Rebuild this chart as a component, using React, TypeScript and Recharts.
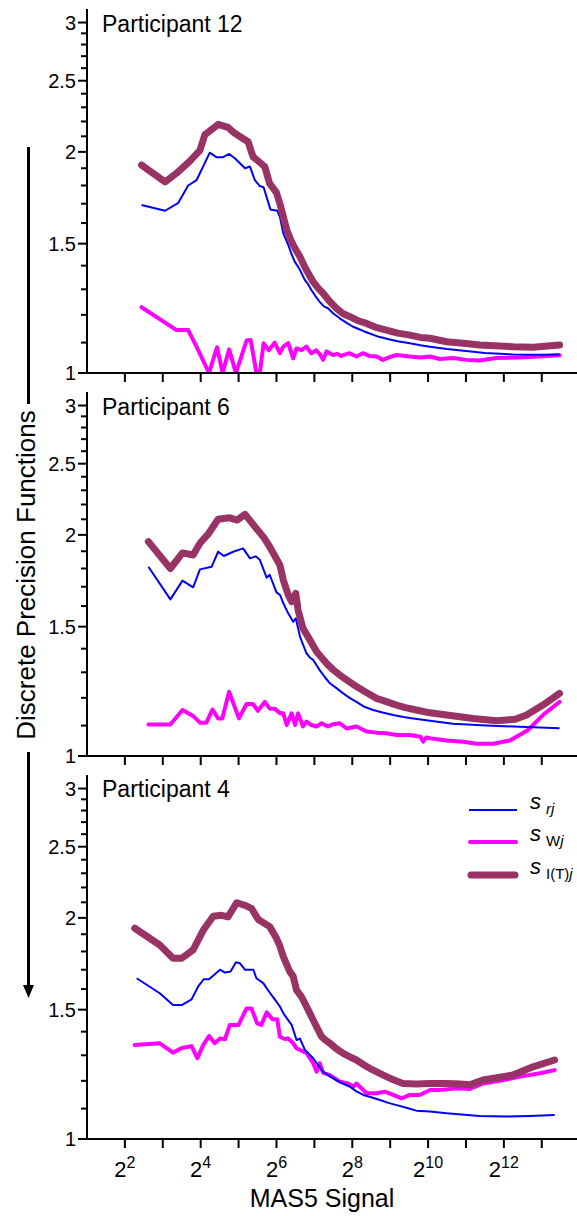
import React from 'react'
import { LineChart, Line, XAxis, YAxis } from 'recharts'

const FONT = '"Liberation Sans", Arial, Helvetica, sans-serif'

// [log2(MAS5 signal), precision value]
const p12Rj: [number, number][] = [
  [2.44, 1.693], [3.06, 1.663], [3.41, 1.705], [3.67, 1.8], [3.89, 1.83], [4.24, 1.995], [4.42, 1.966],
  [4.58, 1.966], [4.75, 1.987], [4.9, 1.96], [5.17, 1.9], [5.3, 1.91], [5.43, 1.83], [5.56, 1.797],
  [5.66, 1.79], [5.84, 1.67], [6.02, 1.663], [6.09, 1.632], [6.18, 1.549], [6.31, 1.494], [6.4, 1.45],
  [6.48, 1.418], [6.56, 1.398], [6.62, 1.381], [6.75, 1.338], [6.83, 1.322], [6.92, 1.297], [7.03, 1.272],
  [7.14, 1.25], [7.25, 1.232], [7.36, 1.225], [7.5, 1.205], [7.67, 1.187], [7.85, 1.17], [8.02, 1.156],
  [8.2, 1.146], [8.3, 1.14], [8.46, 1.132], [8.7, 1.12], [8.99, 1.111], [9.2, 1.105], [9.52, 1.098],
  [9.8, 1.091], [10.05, 1.086], [10.5, 1.078], [11.0, 1.071], [11.5, 1.065], [12.24, 1.06], [13.0, 1.059],
  [13.47, 1.06],
]
const p12W: [number, number][] = [
  [2.44, 1.229], [3.06, 1.171], [3.36, 1.144], [3.67, 1.144], [3.89, 1.086], [4.22, 1.0], [4.43, 1.084],
  [4.58, 1.0], [4.75, 1.077], [4.93, 1.0], [5.21, 1.107], [5.32, 1.109], [5.47, 1.0], [5.56, 1.0],
  [5.66, 1.098], [5.8, 1.074], [5.95, 1.1], [6.09, 1.064], [6.18, 1.086], [6.31, 1.098], [6.44, 1.047],
  [6.53, 1.08], [6.66, 1.074], [6.79, 1.086], [6.92, 1.064], [7.05, 1.074], [7.15, 1.06], [7.23, 1.042],
  [7.32, 1.07], [7.49, 1.058], [7.6, 1.062], [7.7, 1.055], [7.93, 1.064], [8.11, 1.053], [8.28, 1.064],
  [8.45, 1.055], [8.64, 1.053], [8.81, 1.042], [9.0, 1.052], [9.17, 1.058], [9.52, 1.053], [9.8, 1.05],
  [10.05, 1.053], [10.31, 1.045], [10.66, 1.048], [11.01, 1.042], [11.36, 1.04], [11.8, 1.048],
  [12.42, 1.05], [13.12, 1.055], [13.47, 1.057],
]
const p12I: [number, number][] = [
  [2.44, 1.919], [3.06, 1.82], [3.36, 1.87], [3.7, 1.94], [3.98, 2.01], [4.11, 2.11], [4.46, 2.18],
  [4.72, 2.16], [4.9, 2.12], [5.25, 2.065], [5.38, 1.97], [5.69, 1.91], [5.82, 1.81], [6.0, 1.76],
  [6.09, 1.7], [6.18, 1.632], [6.27, 1.566], [6.36, 1.525], [6.44, 1.494], [6.53, 1.465], [6.62, 1.44],
  [6.7, 1.41], [6.79, 1.381], [6.88, 1.355], [6.97, 1.331], [7.1, 1.305], [7.23, 1.284], [7.4, 1.252],
  [7.58, 1.225], [7.75, 1.205], [7.94, 1.193], [8.15, 1.178], [8.38, 1.168], [8.6, 1.155], [8.9, 1.144],
  [9.2, 1.133], [9.52, 1.126], [9.8, 1.118], [10.05, 1.115], [10.49, 1.103], [11.0, 1.097], [11.36, 1.092],
  [12.24, 1.086], [12.77, 1.084], [13.47, 1.092],
]

const p6Rj: [number, number][] = [
  [2.62, 1.81], [3.2, 1.634], [3.52, 1.733], [3.8, 1.697], [3.98, 1.795], [4.29, 1.81], [4.46, 1.897],
  [4.61, 1.872], [4.86, 1.897], [5.12, 1.917], [5.3, 1.858], [5.45, 1.87], [5.56, 1.85], [5.74, 1.749],
  [5.82, 1.765], [6.0, 1.67], [6.1, 1.655], [6.18, 1.614], [6.31, 1.564], [6.44, 1.523], [6.51, 1.54],
  [6.62, 1.454], [6.79, 1.38], [6.88, 1.362], [6.97, 1.351], [7.14, 1.309], [7.28, 1.28], [7.41, 1.256],
  [7.6, 1.235], [7.76, 1.217], [7.95, 1.198], [8.11, 1.185], [8.3, 1.168], [8.55, 1.155], [8.8, 1.146],
  [9.08, 1.137], [9.35, 1.13], [9.61, 1.125], [10.05, 1.117], [10.66, 1.106], [11.54, 1.1],
  [12.42, 1.096], [13.47, 1.091],
]
const p6W: [number, number][] = [
  [2.62, 1.104], [3.2, 1.104], [3.52, 1.155], [3.8, 1.134], [3.98, 1.11], [4.15, 1.11], [4.31, 1.157],
  [4.46, 1.125], [4.57, 1.125], [4.75, 1.223], [5.01, 1.125], [5.21, 1.177], [5.38, 1.177], [5.51, 1.152],
  [5.69, 1.185], [5.82, 1.16], [5.95, 1.16], [6.1, 1.143], [6.18, 1.143], [6.27, 1.102], [6.4, 1.143],
  [6.49, 1.102], [6.57, 1.143], [6.7, 1.097], [6.79, 1.114], [6.92, 1.102], [7.06, 1.097], [7.19, 1.108],
  [7.36, 1.097], [7.5, 1.105], [7.67, 1.108], [7.85, 1.09], [8.11, 1.097], [8.38, 1.08], [8.64, 1.076],
  [8.9, 1.074], [9.17, 1.068], [9.52, 1.068], [9.8, 1.062], [9.87, 1.046], [9.95, 1.06], [10.05, 1.057],
  [10.49, 1.05], [10.93, 1.046], [11.28, 1.039], [11.72, 1.039], [12.16, 1.05], [12.64, 1.085],
  [13.03, 1.137], [13.47, 1.185],
]
const p6I: [number, number][] = [
  [2.62, 1.958], [3.2, 1.8], [3.52, 1.89], [3.8, 1.878], [3.98, 1.948], [4.2, 2.006], [4.46, 2.1],
  [4.77, 2.11], [4.96, 2.095], [5.17, 2.133], [5.43, 2.052], [5.65, 1.989], [5.82, 1.927], [6.09, 1.82],
  [6.18, 1.736], [6.31, 1.657], [6.4, 1.622], [6.51, 1.665], [6.57, 1.58], [6.7, 1.492], [6.88, 1.439],
  [7.06, 1.387], [7.2, 1.36], [7.32, 1.337], [7.5, 1.31], [7.67, 1.289], [7.9, 1.265], [8.11, 1.243],
  [8.35, 1.222], [8.64, 1.198], [8.9, 1.186], [9.17, 1.173], [9.4, 1.164], [9.69, 1.155], [10.05, 1.145],
  [10.49, 1.137], [11.19, 1.125], [11.8, 1.117], [12.3, 1.122], [12.6, 1.137], [13.03, 1.173],
  [13.47, 1.217],
]

const p4Rj: [number, number][] = [
  [2.31, 1.655], [2.92, 1.579], [3.27, 1.522], [3.5, 1.522], [3.76, 1.549], [3.93, 1.612], [4.08, 1.65],
  [4.22, 1.65], [4.51, 1.7], [4.64, 1.685], [4.79, 1.69], [4.93, 1.74], [5.03, 1.735], [5.17, 1.7],
  [5.39, 1.7], [5.47, 1.655], [5.65, 1.63], [5.82, 1.583], [5.95, 1.55], [6.09, 1.515], [6.2, 1.478],
  [6.4, 1.43], [6.53, 1.364], [6.62, 1.37], [6.75, 1.322], [6.97, 1.288], [7.1, 1.26], [7.23, 1.235],
  [7.4, 1.218], [7.58, 1.203], [7.75, 1.19], [7.94, 1.178], [8.1, 1.162], [8.29, 1.148], [8.5, 1.14],
  [8.73, 1.13], [8.95, 1.12], [9.17, 1.112], [9.45, 1.102], [9.69, 1.093], [10.05, 1.09], [10.49, 1.084],
  [11.36, 1.075], [12.07, 1.073], [12.68, 1.075], [13.34, 1.078],
]
const p4W: [number, number][] = [
  [2.26, 1.343], [2.92, 1.35], [3.27, 1.311], [3.5, 1.33], [3.76, 1.338], [3.91, 1.288], [4.07, 1.343],
  [4.22, 1.381], [4.37, 1.35], [4.51, 1.37], [4.64, 1.367], [4.77, 1.43], [5.0, 1.43], [5.21, 1.506],
  [5.34, 1.506], [5.49, 1.437], [5.6, 1.43], [5.74, 1.487], [5.9, 1.455], [6.02, 1.455], [6.09, 1.378],
  [6.22, 1.368], [6.31, 1.37], [6.44, 1.35], [6.53, 1.329], [6.62, 1.322], [6.79, 1.31], [6.97, 1.268],
  [7.06, 1.235], [7.14, 1.268], [7.23, 1.23], [7.41, 1.222], [7.67, 1.197], [7.89, 1.19], [8.02, 1.178],
  [8.11, 1.19], [8.38, 1.154], [8.64, 1.154], [8.86, 1.16], [9.08, 1.148], [9.3, 1.136], [9.52, 1.148],
  [9.78, 1.148], [10.05, 1.166], [10.31, 1.166], [10.75, 1.172], [11.1, 1.17], [11.45, 1.19],
  [11.89, 1.2], [12.42, 1.216], [12.95, 1.229], [13.34, 1.241],
]
const p4I: [number, number][] = [
  [2.26, 1.936], [2.92, 1.837], [3.27, 1.762], [3.5, 1.762], [3.8, 1.809], [4.07, 1.925], [4.33, 2.01],
  [4.55, 2.016], [4.72, 2.006], [4.95, 2.097], [5.17, 2.08], [5.34, 2.06], [5.52, 1.99], [5.82, 1.946],
  [6.0, 1.876], [6.09, 1.83], [6.18, 1.771], [6.35, 1.69], [6.44, 1.665], [6.53, 1.595], [6.66, 1.562],
  [6.84, 1.498], [7.01, 1.437], [7.19, 1.378], [7.3, 1.362], [7.41, 1.35], [7.58, 1.327], [7.76, 1.308],
  [7.95, 1.293], [8.11, 1.281], [8.3, 1.262], [8.46, 1.248], [8.7, 1.23], [8.9, 1.216], [9.1, 1.203],
  [9.34, 1.19], [9.69, 1.188], [10.05, 1.19], [10.49, 1.19], [10.84, 1.188], [11.1, 1.185],
  [11.45, 1.203], [12.24, 1.222], [12.77, 1.254], [13.34, 1.281],
]

const X_TICKS = [2, 3, 4, 5, 6, 7, 8, 9, 10, 11, 12, 13]
const Y_MAJOR = [1, 1.5, 2, 2.5, 3]
const Y_TICKS = [
  1, 1.1, 1.2, 1.3, 1.4, 1.5, 1.6, 1.7, 1.8, 1.9, 2, 2.1, 2.2, 2.3, 2.4, 2.5, 2.6, 2.7, 2.8, 2.9, 3,
]

const BLUE = '#0000ff'
const MAGENTA = '#ff00ff'
const MAROON = '#993366'

const pts = (a: [number, number][]) => a.map(([x, y]) => ({ x, y }))

function YTick({ x, y, payload }: any) {
  const major = Y_MAJOR.includes(payload.value)
  return (
    <g>
      <line x1={x - (major ? 9 : 6)} x2={x} y1={y} y2={y} stroke="#000" strokeWidth={2} />
      {major && (
        <text x={x - 11} y={y + 7} textAnchor="end" fontSize={20} fontFamily={FONT} fill="#000">
          {payload.value}
        </text>
      )}
    </g>
  )
}

function XTick({ x, y, payload, showLabel }: any) {
  const v = payload.value
  return (
    <g>
      <line x1={x} x2={x} y1={y} y2={y + 9} stroke="#000" strokeWidth={2} />
      {showLabel && v % 2 === 0 && (
        <text x={x} y={y + 38} textAnchor="middle" fontSize={22} fontFamily={FONT} fill="#000">
          2<tspan dy={-9} fontSize={16}>{v}</tspan>
        </text>
      )}
    </g>
  )
}

interface PanelProps {
  top: number
  height: number
  rj: [number, number][]
  w: [number, number][]
  it: [number, number][]
  showLabels?: boolean
}

function Panel({ top, height, rj, w, it, showLabels = false }: PanelProps) {
  return (
    <div style={{ position: 'absolute', left: 0, top, width: 577, height }}>
      <LineChart width={577} height={height} margin={{ top: 9, right: 0, bottom: 0, left: 0 }}>
        <XAxis
          type="number"
          dataKey="x"
          domain={[1, 13.93]}
          ticks={X_TICKS}
          interval={0}
          allowDataOverflow
          height={showLabels ? 77 : 11}
          tickSize={0}
          tickMargin={0}
          axisLine={{ stroke: '#000', strokeWidth: 2 }}
          tick={(p: any) => <XTick {...p} showLabel={showLabels} />}
        />
        <YAxis
          type="number"
          dataKey="y"
          scale="log"
          domain={[1, 3.13]}
          ticks={Y_TICKS}
          interval={0}
          allowDataOverflow
          width={87}
          tickSize={0}
          tickMargin={0}
          axisLine={{ stroke: '#000', strokeWidth: 2 }}
          tick={(p: any) => <YTick {...p} />}
        />
        <Line data={pts(w)} dataKey="y" stroke={MAGENTA} strokeWidth={4} dot={false}
          strokeLinejoin="round" strokeLinecap="round" isAnimationActive={false} />
        <Line data={pts(rj)} dataKey="y" stroke={BLUE} strokeWidth={2} dot={false}
          strokeLinejoin="round" isAnimationActive={false} />
        <Line data={pts(it)} dataKey="y" stroke={MAROON} strokeWidth={7} dot={false}
          strokeLinejoin="round" strokeLinecap="round" isAnimationActive={false} />
      </LineChart>
    </div>
  )
}

export default function App() {
  return (
    <div style={{ position: 'absolute', left: 0, top: 0, width: 577, height: 1216, background: '#fff', fontFamily: FONT }}>
      <Panel top={0} height={384} rj={p12Rj} w={p12W} it={p12I} />
      <Panel top={383} height={384} rj={p6Rj} w={p6W} it={p6I} />
      <Panel top={766} height={450} rj={p4Rj} w={p4W} it={p4I} showLabels />
      <svg width={577} height={1216} style={{ position: 'absolute', left: 0, top: 0, pointerEvents: 'none' }}>
        <g fontFamily={FONT} fill="#000">
          <text x={102} y={32} fontSize={23}>Participant 12</text>
          <text x={102} y={415} fontSize={23}>Participant 6</text>
          <text x={102} y={797} fontSize={23}>Participant 4</text>
          <text x={322} y={1207} fontSize={25} textAnchor="middle">MAS5 Signal</text>
          <text x={35} y={575} fontSize={26} textAnchor="middle" transform="rotate(-90 35 575)">
            Discrete Precision Functions
          </text>
        </g>
        {/* arrow along the shared y title */}
        <line x1={28.5} x2={28.5} y1={147} y2={404} stroke="#000" strokeWidth={3} />
        <line x1={28.5} x2={28.5} y1={752} y2={988} stroke="#000" strokeWidth={3} />
        <polygon points="23,985 34,985 28.5,998" fill="#000" />
        {/* legend */}
        <g fontFamily={FONT} fill="#000">
          <line x1={469} x2={517} y1={810} y2={810} stroke={BLUE} strokeWidth={2} />
          <text x={530} y={809} fontSize={22} fontStyle="italic">
            s<tspan dx={5} dy={5} fontSize={15}>rj</tspan>
          </text>
          <line x1={470} x2={516} y1={842} y2={842} stroke={MAGENTA} strokeWidth={4} strokeLinecap="round" />
          <text x={530} y={841} fontSize={22} fontStyle="italic">
            s<tspan dx={5} dy={5} fontSize={15} fontStyle="normal">W</tspan>
            <tspan fontSize={15}>j</tspan>
          </text>
          <line x1={471} x2={515} y1={875} y2={875} stroke={MAROON} strokeWidth={7} strokeLinecap="round" />
          <text x={530} y={874} fontSize={22} fontStyle="italic">
            s<tspan dx={5} dy={5} fontSize={15} fontStyle="normal">I(T)</tspan>
            <tspan fontSize={15}>j</tspan>
          </text>
        </g>
      </svg>
    </div>
  )
}
